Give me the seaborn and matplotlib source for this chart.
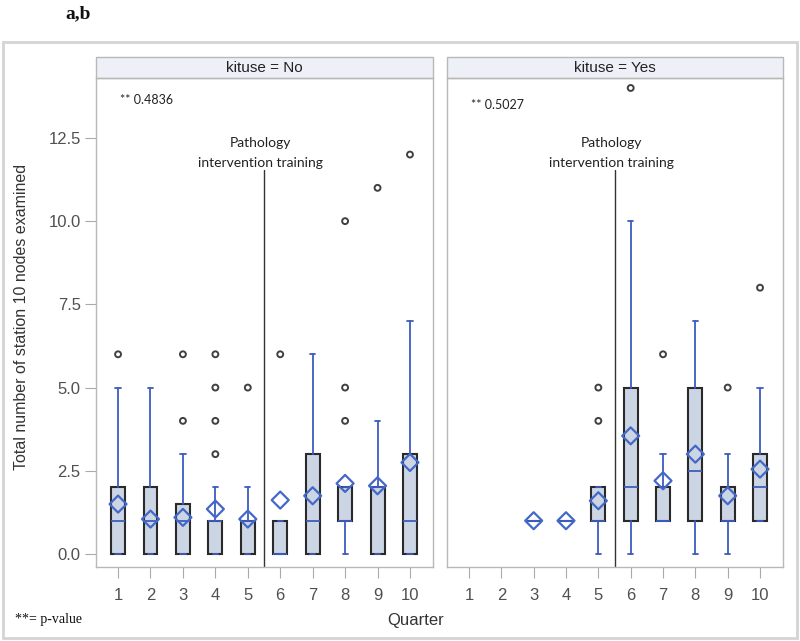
import numpy as np
import pandas as pd
import matplotlib
matplotlib.use("Agg")
import matplotlib.pyplot as plt
from matplotlib.patches import Rectangle
import seaborn as sns

# ---------------- data ----------------
quarters = [1, 2, 3, 4, 5, 6, 7, 8, 9, 10]

# kituse = No
no_q1 = [0, 0, 0, 0, 0, 0, 0, 1, 0, 0]
no_med = [1, 1, 1, 1, 1, 0, 1, 1, 2, 1]
no_q3 = [2, 2, 1.5, 1, 1, 1, 3, 2, 2, 3]
no_wlo = [0, 0, 0, 0, 0, 0, 0, 0, 0, 0]
no_whi = [5, 5, 3, 2, 2, 1, 6, 2, 4, 7]
no_mean = [1.5, 1.05, 1.1, 1.35, 1.05, 1.62, 1.75, 2.12, 2.05, 2.75]
no_out = [[6], [], [4, 6], [3, 4, 5, 6], [5], [6], [], [4, 5, 10], [11], [12]]

# kituse = Yes (quarters 1-2 have no data)
yes_q1 = [None, None, 1, 1, 1, 1, 1, 1, 1, 1]
yes_med = [None, None, 1, 1, 1, 2, 1, 2.5, 1, 2]
yes_q3 = [None, None, 1, 1, 2, 5, 2, 5, 2, 3]
yes_wlo = [None, None, 1, 1, 0, 0, 1, 0, 0, 1]
yes_whi = [None, None, 1, 1, 2, 10, 3, 7, 3, 5]
yes_mean = [None, None, 1.0, 1.0, 1.6, 3.55, 2.2, 3.0, 1.75, 2.55]
yes_out = [[], [], [], [], [4, 5], [14], [6], [], [5], [8]]

p_values = ["0.4836", "0.5027"]
panel_titles = ["kituse = No", "kituse = Yes"]
y_ticks = [0.0, 2.5, 5.0, 7.5, 10.0, 12.5]
training_after_quarter = 5.5

# ---------------- style ----------------
sns.set_style("white")
plt.rcParams["font.family"] = ["Liberation Sans", "DejaVu Sans"]
NARROW = ["Liberation Sans Narrow", "Liberation Sans", "DejaVu Sans"]

BOX_FILL = "#cbd5e4"
BOX_EDGE = "#2a2a2a"
BLUE = "#3d5cc0"
MEAN_BLUE = "#4468c8"
OUT_GRAY = "#404040"
SPINE = "#b8b8b8"
TICK_TXT = "#505050"

W, H = 800, 641
fig = plt.figure(figsize=(W / 100, H / 100), dpi=100)

# outer frame
fig.patches.append(Rectangle((3 / W, 3 / H), 794 / W, (641 - 42 - 3) / H,
                             transform=fig.transFigure, fill=False,
                             edgecolor="#d4d4d4", linewidth=2))

ax_top_px, ax_bot_px = 78, 567
axes_px = [(96, 433), (447, 783)]
axes = []
for (x0, x1) in axes_px:
    ax = fig.add_axes([x0 / W, (H - ax_bot_px) / H, (x1 - x0) / W,
                       (ax_bot_px - ax_top_px) / H])
    axes.append(ax)

panels = [
    (no_q1, no_med, no_q3, no_wlo, no_whi, no_mean, no_out),
    (yes_q1, yes_med, yes_q3, yes_wlo, yes_whi, yes_mean, yes_out),
]

for i, (ax, data) in enumerate(zip(axes, panels)):
    q1s, meds, q3s, wlos, whis, means, outs = data
    stats, pos = [], []
    for q, a, m, b, lo, hi in zip(quarters, q1s, meds, q3s, wlos, whis):
        if a is None:
            continue
        stats.append(dict(q1=a, med=m, q3=b, whislo=lo, whishi=hi, fliers=[]))
        pos.append(q)
    ax.bxp(stats, positions=pos, widths=0.43, patch_artist=True,
           showfliers=False, showcaps=True, capwidths=0.16,
           boxprops=dict(facecolor=BOX_FILL, edgecolor=BOX_EDGE, linewidth=1.5),
           whiskerprops=dict(color=BLUE, linewidth=1.3),
           capprops=dict(color=BLUE, linewidth=1.3),
           medianprops=dict(color=BLUE, linewidth=1.3),
           manage_ticks=False, zorder=2)

    mdf = pd.DataFrame({"q": [q for q, m in zip(quarters, means) if m is not None],
                        "mean": [m for m in means if m is not None]})
    sns.scatterplot(data=mdf, x="q", y="mean", ax=ax, marker="D", s=75,
                    facecolor="none", edgecolor=MEAN_BLUE, linewidth=1.6,
                    zorder=4, legend=False)
    odf = pd.DataFrame({"q": [q for q, o in zip(quarters, outs) for _ in o],
                        "v": [v for o in outs for v in o]})
    sns.scatterplot(data=odf, x="q", y="v", ax=ax, marker="o", s=18,
                    facecolor="none", edgecolor=OUT_GRAY, linewidth=1.4,
                    zorder=4, legend=False)

    ax.set_xlim(0.32, 10.71)
    ax.set_ylim(-0.39, 14.3)
    ax.set_xticks(quarters)
    ax.set_xticklabels([str(q) for q in quarters], fontsize=12, color=TICK_TXT,
                       family=NARROW)
    ax.set_yticks(y_ticks)
    if i == 0:
        ax.set_yticklabels([f"{t:.1f}" for t in y_ticks], fontsize=12,
                           color=TICK_TXT, family=NARROW)
    else:
        ax.set_yticklabels([])
    ax.tick_params(axis="x", direction="out", length=8, width=0.8,
                   color="#aaaaaa", pad=7, bottom=True)
    ax.tick_params(axis="y", direction="out", length=8 if i == 0 else 0,
                   width=0.8, color="#aaaaaa", pad=3, left=(i == 0))
    ax.set_xlabel("")
    ax.set_ylabel("")
    for s in ax.spines.values():
        s.set_color(SPINE)
        s.set_linewidth(1.0)

    # intervention line
    ax.axvline(training_after_quarter, ymin=0, ymax=(11.55 + 0.39) / (14.3 + 0.39),
               color="#333333", linewidth=1.0, zorder=1)
    ax.text(training_after_quarter - 0.1, 12.35, "Pathology", ha="center", va="center",
            fontsize=10, family=["Lato", "DejaVu Sans"], color="#222222")
    ax.text(training_after_quarter - 0.1, 11.75, "intervention training", ha="center",
            va="center", fontsize=10, family=["Lato", "DejaVu Sans"], color="#222222")
    ax.text(0.07, 0.955 - 0.01 * i, "** " + p_values[i], transform=ax.transAxes,
            ha="left", va="center", fontsize=9, family=["Lato", "DejaVu Sans"],
            color="#222222")

    # header strip
    hh = 21 / (ax_bot_px - ax_top_px)
    ax.add_patch(Rectangle((0, 1), 1, hh, transform=ax.transAxes, clip_on=False,
                           facecolor="#eef0f8", edgecolor=SPINE, linewidth=1.0))
    ax.text(0.5, 1 + hh / 2, panel_titles[i], transform=ax.transAxes, ha="center",
            va="center", fontsize=11, color="#222222")

fig.text(22 / W, 1 - 317 / H, "Total number of station 10 nodes examined",
         rotation=90, ha="center", va="center", fontsize=11.5, color="#333333")
fig.text(416 / W, 1 - 620 / H, "Quarter", ha="center", va="center",
         fontsize=12, color="#333333", family=NARROW)
fig.text(15 / W, 1 - 620 / H, "**= p-value", ha="left", va="center",
         fontsize=10, family=["Liberation Serif", "DejaVu Serif"], color="#111111")
fig.text(65 / W, 1 - 14 / H, "a,b", ha="left", va="center", fontsize=14,
         fontweight="bold", family=["Liberation Serif", "DejaVu Serif"], color="#111111")

fig.savefig("out.png", dpi=100)
